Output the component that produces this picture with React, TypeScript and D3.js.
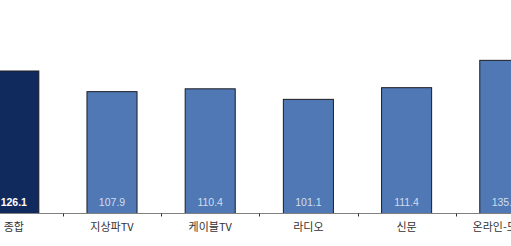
import React from "react";
import * as d3 from "d3";

const categories = ["종합", "지상파TV", "케이블TV", "라디오", "신문", "온라인-모바일"];
const values = [126.1, 107.9, 110.4, 101.1, 111.4, 135.5];
const highlightIndex = 0;

const W = 511;
const H = 246;

export default function App() {
  const baseY = 213.5;
  const step = 98.2;
  const x0 = -35.3;
  const x = d3
    .scaleBand<string>()
    .domain(categories)
    .range([x0, x0 + step * categories.length])
    .paddingInner(0.48)
    .paddingOuter(0.24);
  const y = d3.scaleLinear().domain([0, 100]).range([baseY, baseY - 113.4]);
  const bw = x.bandwidth();

  return (
    <div style={{ position: "absolute", left: 0, top: 0 }}>
      <svg width={W} height={H} style={{ display: "block", background: "#fff" }}>
        {categories.map((c, i) => {
          const bx = x(c)!;
          const top = y(values[i]);
          return (
            <g key={c}>
              <rect
                x={bx + 0.5}
                y={top + 0.5}
                width={bw - 1}
                height={baseY - top - 0.5}
                fill={i === highlightIndex ? "#112a5e" : "#4f78b5"}
                stroke="#1c1c24"
                strokeWidth={1}
              />
              <text
                x={bx + bw / 2}
                y={baseY - 8}
                textAnchor="middle"
                fontFamily="'Liberation Sans', Arial, sans-serif"
                fontSize={10.5}
                fontWeight={i === highlightIndex ? "bold" : "normal"}
                fill={i === highlightIndex ? "#ffffff" : "#d3ddef"}
              >
                {values[i].toFixed(1)}
              </text>
              <text
                x={bx + bw / 2}
                y={baseY + 17.5}
                textAnchor="middle"
                fontFamily="'Noto Sans CJK KR', 'Liberation Sans', sans-serif"
                fontSize={11}
                fill="#333"
              >
                {c}
              </text>
            </g>
          );
        })}
        <line x1={0} x2={W} y1={baseY} y2={baseY} stroke="#808080" strokeWidth={1.2} />
        {categories.slice(1).map((c) => {
          const tx = Math.round(x(c)! - (step - bw) / 2) + 0.5;
          return <line key={"t" + c} x1={tx} x2={tx} y1={baseY} y2={baseY + 3} stroke="#333" strokeWidth={1} />;
        })}
      </svg>
    </div>
  );
}
